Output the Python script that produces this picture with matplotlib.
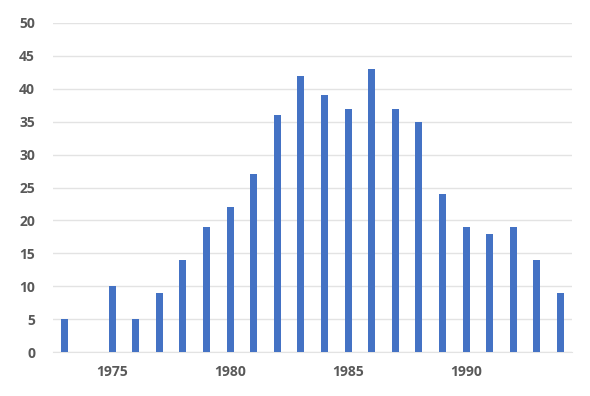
import numpy as np
import matplotlib.pyplot as plt

# Dati
anni = list(range(1973, 1995))
valori = [5, 0, 10, 5, 9, 14, 19, 22, 27, 36, 42, 39, 37, 43, 37, 35, 24, 19, 18, 19, 14, 9]
tick_anni = [1975, 1980, 1985, 1990]
tick_y = [0, 5, 10, 15, 20, 25, 30, 35, 40, 45, 50]

plt.rcParams["font.family"] = ["Open Sans", "DejaVu Sans"]

fig = plt.figure(figsize=(5.9, 3.96), dpi=100)
ax = fig.add_axes([0.09, 0.111, 0.88, 0.831])

ax.bar(anni, valori, width=0.3, color="#4472C4", zorder=3)

ax.set_xlim(1972.5, 1994.5)
ax.set_ylim(0, 50)
ax.set_xticks(tick_anni)
ax.set_yticks(tick_y)
ax.grid(axis="y", color="#E3E3E3", linewidth=1, zorder=0)
for s in ["top", "right", "left"]:
    ax.spines[s].set_visible(False)
ax.spines["bottom"].set_color("#E3E3E3")
ax.tick_params(length=0, labelsize=10, labelcolor="#595959")
ax.tick_params(axis="x", pad=9)
ax.tick_params(axis="y", pad=13)
for lab in ax.get_xticklabels() + ax.get_yticklabels():
    lab.set_fontweight("bold")

fig.savefig("out.png", dpi=100)
